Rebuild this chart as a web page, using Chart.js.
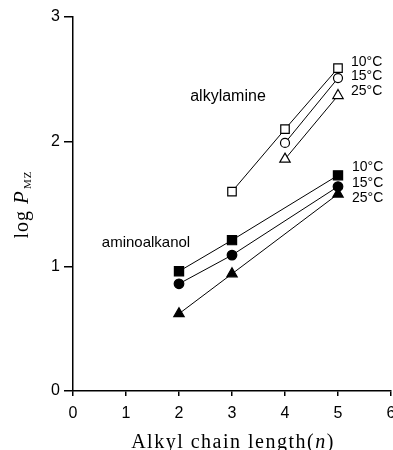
<!DOCTYPE html>
<html>
<head>
<meta charset="utf-8">
<script src="https://cdn.jsdelivr.net/npm/chart.js@4.4.1/dist/chart.umd.min.js"></script>
<style>
  html, body { margin: 0; padding: 0; background: #fff; }
  #wrap { width: 393px; height: 450px; position: relative; }
</style>
</head>
<body>
<div id="wrap"><canvas id="chart"></canvas></div>
<script>
// chain length (n) for each series
const amineX10 = [3, 4, 5];
const amineX = [4, 5];
const alkanolX = [2, 3, 5];

// log P_MZ values
const amine10 = [1.60, 2.10, 2.59];
const amine15 = [1.99, 2.51];
const amine25 = [1.86, 2.37];
const alkanol10 = [0.96, 1.21, 1.73];
const alkanol15 = [0.86, 1.09, 1.64];
const alkanol25 = [0.62, 0.94, 1.58];

const xTicks = [0, 1, 2, 3, 4, 5, 6];
const yTicks = [0, 1, 2, 3];
const tempLabels = ["10°C", "15°C", "25°C"];
const groupLabels = ["alkylamine", "aminoalkanol"];

const SANS = '"Liberation Sans", Arial, sans-serif';
const SERIF = '"Liberation Serif", "Times New Roman", serif';

function pts(xs, ys) {
  return xs.map((x, i) => ({ x: x, y: ys[i] }));
}

function series(xs, ys, style, filled, radius) {
  return {
    data: pts(xs, ys),
    showLine: true,
    borderColor: "#000",
    borderWidth: 1,
    pointStyle: style,
    pointRadius: radius,
    pointHoverRadius: radius,
    pointBorderWidth: 1.2,
    pointBorderColor: "#000",
    pointBackgroundColor: filled ? "#000" : "#fff",
  };
}

// tick labels, annotations and axis titles drawn by hand
const textPlugin = {
  id: "texts",
  afterDraw(chart) {
    const ctx = chart.ctx;
    const xs = chart.scales.x;
    const ys = chart.scales.y;
    ctx.save();
    ctx.fillStyle = "#000";
    ctx.textBaseline = "middle";
    ctx.font = "16px " + SANS;

    // tick labels
    ctx.textAlign = "center";
    xTicks.forEach((v) => ctx.fillText(String(v), xs.getPixelForValue(v), 414));
    ctx.textAlign = "right";
    yTicks.forEach((v) => ctx.fillText(String(v), 60, ys.getPixelForValue(v)));

    // temperatures
    ctx.font = "14px " + SANS;
    ctx.textAlign = "left";
    const upper = [62, 76, 91];
    const lower = [167, 183, 198];
    tempLabels.forEach((t, i) => {
      ctx.fillText(t, 351, upper[i]);
      ctx.fillText(t, 352, lower[i]);
    });

    ctx.textAlign = "center";
    ctx.font = "16px " + SANS;
    ctx.fillText(groupLabels[0], 228, 97);
    ctx.font = "15px " + SANS;
    ctx.fillText(groupLabels[1], 146, 243);

    // x title
    ctx.textBaseline = "alphabetic";
    ctx.textAlign = "left";
    ctx.letterSpacing = "1.5px";
    const a = "Alkyl chain length(";
    ctx.font = "italic 20px " + SERIF;
    const wn = ctx.measureText("n").width;
    ctx.font = "20px " + SERIF;
    const wa = ctx.measureText(a).width;
    const wc = ctx.measureText(")").width;
    let x0 = 233 - (wa + wn + wc) / 2;
    ctx.fillText(a, x0, 448);
    ctx.font = "italic 20px " + SERIF;
    ctx.fillText("n", x0 + wa, 448);
    ctx.font = "20px " + SERIF;
    ctx.fillText(")", x0 + wa + wn, 448);

    // y title
    ctx.translate(28, 205);
    ctx.rotate(-Math.PI / 2);
    ctx.letterSpacing = "1px";
    ctx.font = "20px " + SERIF;
    const wl = ctx.measureText("log ").width;
    ctx.font = "italic 21px " + SERIF;
    const wp = ctx.measureText("P").width;
    ctx.font = "11px " + SERIF;
    const ws = ctx.measureText("MZ").width;
    let y0 = -(wl + wp + ws) / 2;
    ctx.font = "20px " + SERIF;
    ctx.fillText("log ", y0, 0);
    ctx.font = "italic 21px " + SERIF;
    ctx.fillText("P", y0 + wl, 0);
    ctx.font = "11px " + SERIF;
    ctx.fillText("MZ", y0 + wl + wp + 1, 3);
    ctx.restore();
  },
};

new Chart(document.getElementById("chart"), {
  type: "scatter",
  data: {
    datasets: [
      series(amineX10, amine10, "rect", false, 6),
      series(amineX, amine15, "circle", false, 4.5),
      series(amineX, amine25, "triangle", false, 6),
      series(alkanolX, alkanol10, "rect", true, 6.5),
      series(alkanolX, alkanol15, "circle", true, 4.8),
      series(alkanolX, alkanol25, "triangle", true, 6),
    ],
  },
  options: {
    responsive: true,
    maintainAspectRatio: false,
    animation: false,
    devicePixelRatio: 1,
    layout: { autoPadding: false, padding: { top: 17, right: 2, left: 0, bottom: 0 } },
    plugins: {
      legend: { display: false },
      tooltip: { enabled: false },
    },
    scales: {
      x: {
        type: "linear",
        min: 0,
        max: 6,
        afterBuildTicks: (s) => { s.ticks = xTicks.map((v) => ({ value: v })); },
        afterFit: (s) => { s.height = 59; s.paddingLeft = 0; s.paddingRight = 0; },
        border: { display: true, color: "#000", width: 1.5 },
        grid: { drawOnChartArea: false, drawTicks: true, tickLength: 5, color: "#000", lineWidth: 1.5 },
        ticks: { display: false },
      },
      y: {
        type: "linear",
        min: 0,
        max: 3,
        afterBuildTicks: (s) => { s.ticks = yTicks.map((v) => ({ value: v })); },
        afterFit: (s) => { s.width = 73; s.paddingTop = 0; s.paddingBottom = 0; },
        border: { display: true, color: "#000", width: 1.5 },
        grid: { drawOnChartArea: false, drawTicks: true, tickLength: 9, color: "#000", lineWidth: 1.5 },
        ticks: { display: false },
      },
    },
  },
  plugins: [textPlugin],
});
</script>
</body>
</html>
